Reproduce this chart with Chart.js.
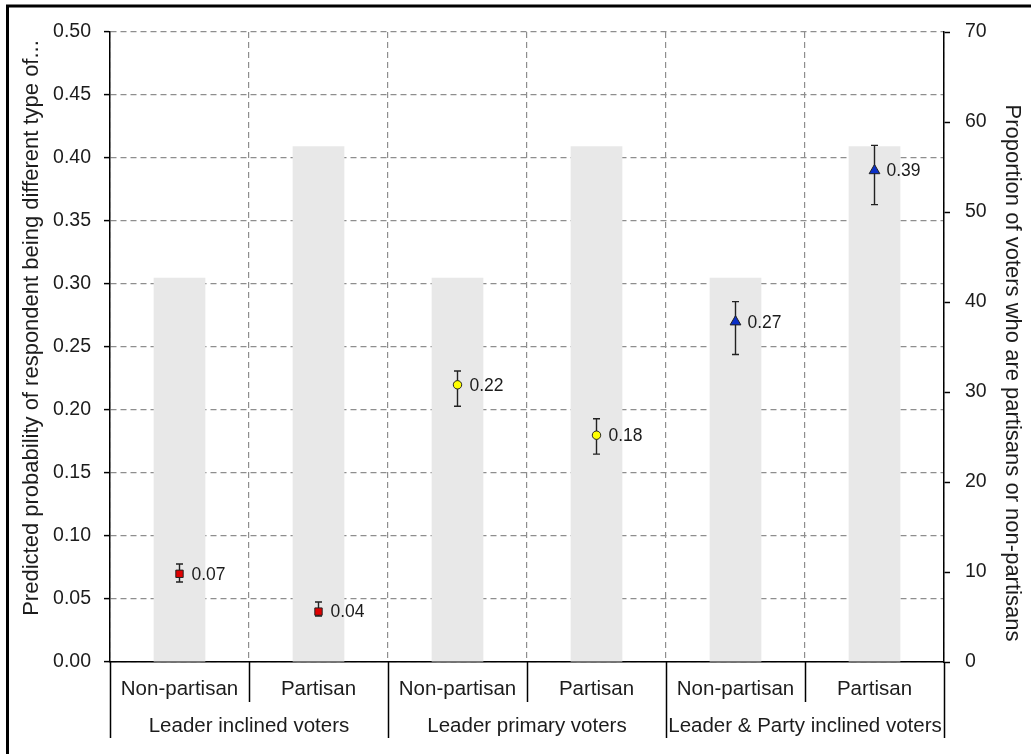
<!DOCTYPE html>
<html>
<head>
<meta charset="utf-8">
<script src="https://cdn.jsdelivr.net/npm/chart.js@4"></script>
<style>
  html, body { margin: 0; padding: 0; background: #fff; }
  canvas { display: block; }
</style>
</head>
<body>
<canvas id="chart" width="1031" height="754"></canvas>
<script>
// categories, grouped in pairs under each voter type
const categories = ["Non-partisan", "Partisan", "Non-partisan", "Partisan", "Non-partisan", "Partisan"];
const groups = ["Leader inclined voters", "Leader primary voters", "Leader & Party inclined voters"];

// share of voters (right axis, %)
const voterShare = [42.7, 57.3, 42.7, 57.3, 42.7, 57.3];

// predicted probabilities with confidence intervals (left axis)
const predicted = [0.07, 0.04, 0.22, 0.18, 0.27, 0.39];
const ciLow = [0.0635, 0.0365, 0.203, 0.165, 0.244, 0.363];
const ciHigh = [0.0778, 0.0476, 0.231, 0.193, 0.286, 0.41];

const markerStyle = ["rect", "rect", "circle", "circle", "triangle", "triangle"];
const markerColor = ["#e00000", "#e00000", "#ffff00", "#ffff00", "#0a2fc8", "#0a2fc8"];
const markerSize = [5.2, 5.2, 4.2, 4.2, 6.2, 6.2];

const FONT = "'Liberation Sans', Arial, sans-serif";
const TEXT = "#1c1c1c";

// white page plus the frame lines on the left and top
const background = {
  id: "background",
  beforeDraw(chart) {
    const ctx = chart.ctx;
    ctx.save();
    ctx.fillStyle = "#fff";
    ctx.fillRect(0, 0, chart.width, chart.height);
    ctx.strokeStyle = "#000";
    ctx.lineWidth = 3;
    ctx.beginPath();
    ctx.moveTo(7.5, chart.height);
    ctx.lineTo(7.5, 6);
    ctx.lineTo(chart.width, 6);
    ctx.stroke();
    ctx.restore();
  },
};

// whiskers under the markers, value labels beside them
const errorBars = {
  id: "errorBars",
  beforeDatasetDraw(chart, args) {
    if (args.index !== 0) return;
    const ctx = chart.ctx;
    const y = chart.scales.y;
    const meta = chart.getDatasetMeta(0);
    ctx.save();
    ctx.strokeStyle = "#222";
    ctx.lineWidth = 1.4;
    meta.data.forEach((pt, i) => {
      const top = y.getPixelForValue(ciHigh[i]);
      const bot = y.getPixelForValue(ciLow[i]);
      ctx.beginPath();
      ctx.moveTo(pt.x, top);
      ctx.lineTo(pt.x, bot);
      ctx.moveTo(pt.x - 3.5, top);
      ctx.lineTo(pt.x + 3.5, top);
      ctx.moveTo(pt.x - 3.5, bot);
      ctx.lineTo(pt.x + 3.5, bot);
      ctx.stroke();
    });
    ctx.restore();
  },
  afterDatasetsDraw(chart) {
    const ctx = chart.ctx;
    const meta = chart.getDatasetMeta(0);
    ctx.save();
    ctx.fillStyle = TEXT;
    ctx.font = "17.5px " + FONT;
    ctx.textAlign = "left";
    ctx.textBaseline = "middle";
    meta.data.forEach((pt, i) => {
      ctx.fillText(predicted[i].toFixed(2), pt.x + 12, pt.y + 1);
    });
    ctx.restore();
  },
};

// two-row category axis with separators, and the two axis titles
const categoryAxis = {
  id: "categoryAxis",
  afterDraw(chart) {
    const ctx = chart.ctx;
    const x = chart.scales.x;
    const area = chart.chartArea;
    const step = (area.right - area.left) / categories.length;
    ctx.save();
    ctx.strokeStyle = "#000";
    ctx.lineWidth = 1.5;
    ctx.beginPath();
    for (let i = 0; i <= categories.length; i++) {
      const px = Math.round(area.left + i * step) + 0.5;
      const end = i % 2 === 0 ? area.bottom + 76 : area.bottom + 40;
      ctx.moveTo(px, area.bottom);
      ctx.lineTo(px, end);
    }
    ctx.stroke();

    ctx.fillStyle = TEXT;
    ctx.font = "20.5px " + FONT;
    ctx.textAlign = "center";
    ctx.textBaseline = "middle";
    categories.forEach((c, i) => {
      ctx.fillText(c, x.getPixelForValue(i), area.bottom + 27);
    });
    groups.forEach((g, i) => {
      const cx = (x.getPixelForValue(2 * i) + x.getPixelForValue(2 * i + 1)) / 2;
      ctx.fillText(g, cx, area.bottom + 64);
    });

    ctx.font = "22px " + FONT;
    ctx.save();
    ctx.translate(32, 328);
    ctx.rotate(-Math.PI / 2);
    ctx.fillText("Predicted probability of respondent being different type of...", 0, 0);
    ctx.restore();
    ctx.save();
    ctx.translate(1012, 373);
    ctx.rotate(Math.PI / 2);
    ctx.fillText("Proportion of voters who are partisans or non-partisans", 0, 0);
    ctx.restore();
    ctx.restore();
  },
};

new Chart(document.getElementById("chart"), {
  type: "bar",
  data: {
    labels: categories,
    datasets: [
      {
        type: "line",
        label: "Predicted probability",
        data: predicted,
        yAxisID: "y",
        showLine: false,
        pointStyle: markerStyle,
        pointRadius: markerSize,
        pointBackgroundColor: markerColor,
        pointBorderColor: "#222",
        pointBorderWidth: 1,
        order: 0,
      },
      {
        label: "Share of voters",
        data: voterShare,
        yAxisID: "y1",
        backgroundColor: "#e8e8e8",
        categoryPercentage: 1,
        barPercentage: 0.372,
        order: 1,
      },
    ],
  },
  options: {
    responsive: false,
    animation: false,
    layout: { padding: { top: 32, left: 0, right: 0, bottom: 0 } },
    plugins: {
      legend: { display: false },
      tooltip: { enabled: false },
    },
    scales: {
      x: {
        position: "bottom",
        grid: {
          color: "#8e8e8e",
          lineWidth: 1.2,
          drawTicks: false,
        },
        border: { display: true, color: "#000", width: 1.5, dash: [6, 4] },
        ticks: { display: false },
        afterFit: (s) => { s.height = 92; },
      },
      y: {
        position: "left",
        min: 0,
        max: 0.5,
        ticks: {
          stepSize: 0.05,
          padding: 13,
          color: TEXT,
          font: { family: FONT, size: 19.5 },
          callback: (v) => v.toFixed(2),
        },
        grid: {
          color: "#8e8e8e",
          lineWidth: 1.2,
          tickLength: 6,
          tickColor: "#000",
          tickWidth: 1.5,
        },
        border: { display: true, color: "#000", width: 1.5, dash: [6, 4] },
        afterFit: (s) => { s.width = 110; },
      },
      y1: {
        position: "right",
        min: 0,
        max: 70,
        ticks: {
          stepSize: 10,
          padding: 15,
          color: TEXT,
          font: { family: FONT, size: 19.5 },
        },
        grid: {
          drawOnChartArea: false,
          tickLength: 6,
          tickColor: "#000",
          tickWidth: 1.5,
        },
        border: { display: true, color: "#000", width: 1.5 },
        afterFit: (s) => { s.width = 87; },
      },
    },
  },
  plugins: [background, errorBars, categoryAxis],
});
</script>
</body>
</html>
